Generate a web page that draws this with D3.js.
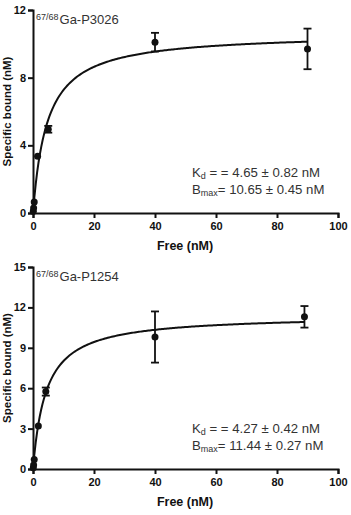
<!DOCTYPE html>
<html>
<head>
<meta charset="utf-8">
<script src="https://cdn.jsdelivr.net/npm/d3@7"></script>
<style>
  body { margin: 0; background: #fff; }
  svg { display: block; font-family: "Liberation Sans", Arial, sans-serif; }
  .tick text { font-size: 11px; font-weight: bold; fill: #111; }
  .axisText { font-size: 12.5px; font-weight: bold; fill: #111; }
  .yText { font-size: 11.5px; font-weight: bold; fill: #111; }
  .note { font-size: 13.2px; fill: #333; }
</style>
</head>
<body>
<div id="chart"></div>
<script>
var svgWidth = 351
var svgHeight = 515

// panel 1: 67/68Ga-P3026
var free1 = [0.1, 0.2, 0.4, 1.5, 5, 40, 90];
var bound1 = [0.1, 0.3, 0.65, 3.35, 4.95, 10.1, 9.7];
var err1 = [0, 0, 0, 0, 0.2, 0.55, 1.2];
var fit1 = { kd: 4.65, bmax: 10.65, end: 90 };
var yTicks1 = [0, 4, 8, 12];

// panel 2: 67/68Ga-P1254
var free2 = [0.1, 0.2, 0.4, 1.75, 4.2, 40, 89];
var bound2 = [0.1, 0.3, 0.7, 3.2, 5.75, 9.8, 11.3];
var err2 = [0, 0, 0, 0, 0.3, 1.9, 0.8];
var fit2 = { kd: 4.27, bmax: 11.44, end: 89 };
var yTicks2 = [0, 3, 6, 9, 12, 15];

var xTicks = [0, 20, 40, 60, 80, 100];

var panels = [
  { name: "Ga-P3026", free: free1, bound: bound1, err: err1, fit: fit1, yMax: 12, yTicks: yTicks1,
    kdText: "= = 4.65 \u00b1 0.82 nM", bText: "= 10.65 \u00b1 0.45 nM", top: 10, bottom: 213 },
  { name: "Ga-P1254", free: free2, bound: bound2, err: err2, fit: fit2, yMax: 15, yTicks: yTicks2,
    kdText: "= = 4.27 \u00b1 0.42 nM", bText: "= 11.44 \u00b1 0.27 nM", top: 267, bottom: 469 }
];

var svg = d3.select("#chart")
  .append("svg")
  .attr("width", svgWidth)
  .attr("height", svgHeight);

var xLinearScale = d3.scaleLinear().domain([0, 100]).range([33, 338]);

panels.forEach(function(p) {
  var g = svg.append("g");
  var y = d3.scaleLinear().domain([0, p.yMax]).range([p.bottom, p.top]);

  var data = p.free.map(function(f, i) {
    return { x: f, y: p.bound[i], e: p.err[i] };
  });

  // fitted one-site binding curve from the reported Kd and Bmax
  var curve = d3.range(0, 201).map(function(i) {
    var x = p.fit.end * i / 200;
    return [x, p.fit.bmax * x / (p.fit.kd + x)];
  });

  g.append("path")
    .datum(curve)
    .attr("fill", "none")
    .attr("stroke", "#111")
    .attr("stroke-width", 2)
    .attr("d", d3.line().x(d => xLinearScale(d[0])).y(d => y(d[1])));

  var xAxis = g.append("g")
    .attr("transform", `translate(0, ${p.bottom})`)
    .call(d3.axisBottom(xLinearScale).tickValues(xTicks).tickSize(5).tickPadding(4));

  var yAxis = g.append("g")
    .attr("transform", `translate(33, 0)`)
    .call(d3.axisLeft(y).tickValues(p.yTicks).tickSize(5).tickPadding(2));

  [xAxis, yAxis].forEach(function(a) {
    a.select(".domain").attr("stroke", "#111").attr("stroke-width", 2);
    a.selectAll(".tick line").attr("stroke", "#111").attr("stroke-width", 2);
  });

  // error bars
  var eb = g.selectAll(".err")
    .data(data.filter(d => d.e > 0))
    .enter()
    .append("g")
    .attr("stroke", "#111")
    .attr("stroke-width", 1.8);

  eb.append("line")
    .attr("x1", d => xLinearScale(d.x)).attr("x2", d => xLinearScale(d.x))
    .attr("y1", d => y(d.y - d.e)).attr("y2", d => y(d.y + d.e));
  eb.append("line")
    .attr("x1", d => xLinearScale(d.x) - 4).attr("x2", d => xLinearScale(d.x) + 4)
    .attr("y1", d => y(d.y + d.e)).attr("y2", d => y(d.y + d.e));
  eb.append("line")
    .attr("x1", d => xLinearScale(d.x) - 4).attr("x2", d => xLinearScale(d.x) + 4)
    .attr("y1", d => y(d.y - d.e)).attr("y2", d => y(d.y - d.e));

  g.selectAll("circle")
    .data(data)
    .enter()
    .append("circle")
    .attr("cx", d => xLinearScale(d.x))
    .attr("cy", d => y(d.y))
    .attr("r", 3.5)
    .attr("fill", "#111");

  // title
  var t = g.append("text")
    .attr("x", 36)
    .attr("y", p.top + 14)
    .attr("fill", "#333");
  t.append("tspan").attr("font-size", "9px").attr("dy", -4).text("67/68");
  t.append("tspan").attr("font-size", "13px").attr("dy", 4).attr("dx", 1).text(p.name);

  // fit results
  var k = g.append("text").attr("class", "note")
    .attr("x", 192).attr("y", p.bottom - 36);
  k.append("tspan").text("K");
  k.append("tspan").attr("font-size", "9px").attr("dy", 2).text("d");
  k.append("tspan").attr("dy", -2).text(" " + p.kdText);

  var b = g.append("text").attr("class", "note")
    .attr("x", 192).attr("y", p.bottom - 19);
  b.append("tspan").text("B");
  b.append("tspan").attr("font-size", "9px").attr("dy", 2).text("max");
  b.append("tspan").attr("dy", -2).text(p.bText);

  g.append("text")
    .attr("class", "axisText")
    .attr("text-anchor", "middle")
    .attr("x", 185)
    .attr("y", p.bottom + 37)
    .text("Free (nM)");

  g.append("text")
    .attr("class", "yText")
    .attr("text-anchor", "middle")
    .attr("transform", `translate(10.5, ${(p.top + p.bottom) / 2}) rotate(-90)`)
    .text("Specific bound (nM)");
});
</script>
</body>
</html>
